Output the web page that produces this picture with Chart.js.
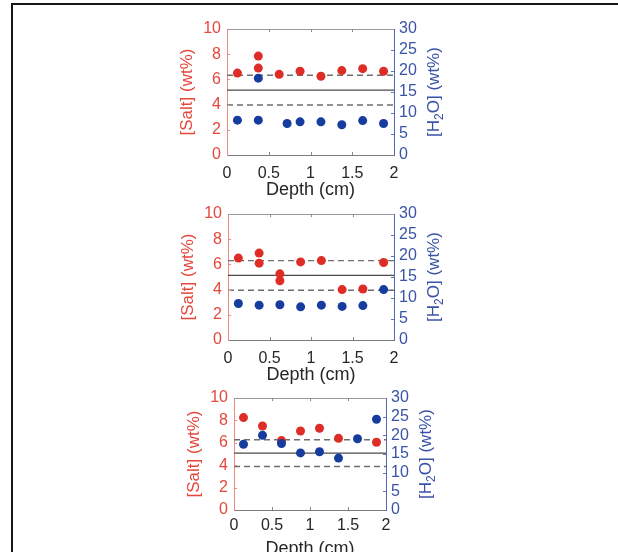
<!DOCTYPE html>
<html>
<head>
<meta charset="utf-8">
<script src="https://cdn.jsdelivr.net/npm/chart.js@4.4.1/dist/chart.umd.min.js"></script>
<style>
  html, body { margin: 0; padding: 0; background: #fff; }
  #page { position: relative; width: 618px; height: 552px; overflow: hidden; }
  #frame { position: absolute; left: 11px; top: 3px; right: -4px; bottom: -4px;
           border-top: 2px solid #161616; border-left: 2px solid #161616; }
  canvas { position: absolute; left: 0; top: 0; }
</style>
</head>
<body>
<div id="page">
  <div id="frame"></div>
  <canvas id="panel1" width="618" height="552"></canvas>
  <canvas id="panel2" width="618" height="552"></canvas>
  <canvas id="panel3" width="618" height="552"></canvas>
</div>
<script>
// axis ticks
const depthTicks = [0, 0.5, 1, 1.5, 2];
const saltTicks = [0, 2, 4, 6, 8, 10];
const waterTicks = [0, 5, 10, 15, 20, 25, 30];

// panel 1
const salt1Depth = [0.125, 0.375, 0.375, 0.625, 0.875, 1.125, 1.375, 1.625, 1.875];
const salt1 = [6.5, 7.85, 6.9, 6.4, 6.65, 6.25, 6.7, 6.85, 6.65];
const water1Depth = [0.125, 0.375, 0.375, 0.72, 0.875, 1.125, 1.375, 1.625, 1.875];
const water1 = [8.3, 8.3, 18.3, 7.5, 7.9, 7.9, 7.2, 8.2, 7.5];
const refs1 = [6.33, 5.15, 3.97];

// panel 2
const salt2Depth = [0.125, 0.375, 0.375, 0.625, 0.625, 0.875, 1.125, 1.375, 1.625, 1.875];
const salt2 = [6.5, 6.9, 6.1, 5.25, 4.7, 6.2, 6.3, 4.0, 4.05, 6.15];
const water2Depth = [0.125, 0.375, 0.625, 0.875, 1.125, 1.375, 1.625, 1.875];
const water2 = [8.7, 8.3, 8.4, 7.9, 8.3, 8.0, 8.2, 12.0];
const refs2 = [6.3, 5.13, 3.95];

// panel 3
const salt3Depth = [0.125, 0.375, 0.625, 0.875, 1.125, 1.375, 1.875];
const salt3 = [8.25, 7.5, 6.2, 7.05, 7.3, 6.4, 6.05];
const water3Depth = [0.125, 0.375, 0.625, 0.875, 1.125, 1.375, 1.625, 1.875];
const water3 = [17.6, 20.0, 17.8, 15.3, 15.6, 13.9, 19.1, 24.3];
const refs3 = [6.27, 5.08, 3.88];

const RED = '#de2d26';
const BLUE = '#163c9e';
const RED_TXT = '#e5473d';
const BLUE_TXT = '#3a53a8';
const FONT = '"Liberation Sans", Arial, Helvetica, sans-serif';

const toPoints = (xs, ys) => xs.map((x, i) => ({ x: x, y: ys[i] }));

// titles, top edge and inward tick marks (MATLAB style)
const panelDecor = {
    id: 'panelDecor',
    afterDraw(chart) {
        const { ctx, chartArea: a, scales } = chart;
        const o = chart.options.plugins.panelDecor;
        ctx.save();

        ctx.lineWidth = 1;
        ctx.strokeStyle = '#9a9a9a';
        ctx.beginPath();
        ctx.moveTo(a.left, a.top + 0.5);
        ctx.lineTo(a.right, a.top + 0.5);
        ctx.stroke();

        // inward ticks
        ctx.strokeStyle = '#8a8a8a';
        depthTicks.slice(1, -1).forEach(v => {
            const px = Math.round(scales.x.getPixelForValue(v)) + 0.5;
            ctx.beginPath();
            ctx.moveTo(px, a.top); ctx.lineTo(px, a.top + 3);
            ctx.moveTo(px, a.bottom); ctx.lineTo(px, a.bottom - 3);
            ctx.stroke();
        });
        ctx.strokeStyle = '#ee8c84';
        saltTicks.slice(1, -1).forEach(v => {
            const py = Math.round(scales.ySalt.getPixelForValue(v)) + 0.5;
            ctx.beginPath(); ctx.moveTo(a.left, py); ctx.lineTo(a.left + 3, py); ctx.stroke();
        });
        ctx.strokeStyle = '#6075bd';
        waterTicks.slice(1, -1).forEach(v => {
            const py = Math.round(scales.yH2O.getPixelForValue(v)) + 0.5;
            ctx.beginPath(); ctx.moveTo(a.right, py); ctx.lineTo(a.right - 3, py); ctx.stroke();
        });

        // x title
        ctx.fillStyle = '#262626';
        ctx.font = '18px ' + FONT;
        ctx.textAlign = 'center';
        ctx.textBaseline = 'middle';
        ctx.fillText('Depth (cm)', (a.left + a.right) / 2, a.bottom + o.xTitleGap);

        const midY = (a.top + a.bottom) / 2;

        // left title
        ctx.save();
        ctx.translate(a.left - 40, midY);
        ctx.rotate(-Math.PI / 2);
        ctx.fillStyle = RED_TXT;
        ctx.font = '17px ' + FONT;
        ctx.fillText('[Salt] (wt%)', 0, 0);
        ctx.restore();

        // right title with subscript, reading bottom to top
        ctx.save();
        ctx.translate(a.right + 40, midY);
        ctx.rotate(-Math.PI / 2);
        ctx.fillStyle = BLUE_TXT;
        ctx.textAlign = 'left';
        const big = '17px ' + FONT, small = '12px ' + FONT;
        ctx.font = big;
        const w1 = ctx.measureText('[H').width;
        const w3 = ctx.measureText('O] (wt%)').width;
        ctx.font = small;
        const w2 = ctx.measureText('2').width;
        let x0 = -(w1 + w2 + w3) / 2;
        ctx.font = big;
        ctx.fillText('[H', x0, 0);
        ctx.font = small;
        ctx.fillText('2', x0 + w1, 6);
        ctx.font = big;
        ctx.fillText('O] (wt%)', x0 + w1 + w2, 0);
        ctx.restore();

        ctx.restore();
    }
};

function refLine(v, dashed) {
    return {
        type: 'line',
        data: [{ x: 0, y: v }, { x: 2, y: v }],
        yAxisID: 'ySalt',
        borderColor: dashed ? '#6e6e6e' : '#4a4a4a',
        borderWidth: 1.4,
        borderDash: dashed ? [6, 4] : [],
        pointRadius: 0,
        showLine: true
    };
}

function makePanel(id, box, saltPts, waterPts, refs, xTickPad, xTitleGap) {
    const ctx = document.getElementById(id).getContext('2d');
    return new Chart(ctx, {
        type: 'scatter',
        data: {
            datasets: [{
                label: 'H2O',
                data: waterPts,
                yAxisID: 'yH2O',
                backgroundColor: BLUE,
                borderWidth: 0,
                pointRadius: 4.5
            }, {
                label: 'Salt',
                data: saltPts,
                yAxisID: 'ySalt',
                backgroundColor: RED,
                borderWidth: 0,
                pointRadius: 4.5
            },
            refLine(refs[0], true),
            refLine(refs[1], false),
            refLine(refs[2], true)]
        },
        options: {
            responsive: false,
            animation: false,
            events: [],
            layout: {
                padding: {
                    left: box.left - 40,
                    right: 618 - box.right - 40,
                    top: box.top,
                    bottom: 552 - box.bottom - 40
                }
            },
            plugins: {
                legend: { display: false },
                tooltip: { enabled: false },
                panelDecor: { xTitleGap: xTitleGap }
            },
            scales: {
                x: {
                    type: 'linear',
                    min: 0,
                    max: 2,
                    afterBuildTicks: s => { s.ticks = depthTicks.map(v => ({ value: v })); },
                    afterFit: s => { s.height = 40; },
                    grid: { display: false, drawTicks: false },
                    border: { color: '#7d7d7d', width: 1 },
                    ticks: {
                        color: '#262626',
                        padding: xTickPad,
                        maxRotation: 0,
                        autoSkip: false,
                        font: { size: 16, family: FONT },
                        callback: v => String(v)
                    }
                },
                ySalt: {
                    position: 'left',
                    min: 0,
                    max: 10,
                    afterBuildTicks: s => { s.ticks = saltTicks.map(v => ({ value: v })); },
                    afterFit: s => { s.width = 40; },
                    grid: { display: false, drawTicks: false },
                    border: { color: '#ee8c84', width: 1 },
                    ticks: {
                        color: RED_TXT,
                        padding: 6,
                        autoSkip: false,
                        font: { size: 16, family: FONT }
                    }
                },
                yH2O: {
                    position: 'right',
                    min: 0,
                    max: 30,
                    afterBuildTicks: s => { s.ticks = waterTicks.map(v => ({ value: v })); },
                    afterFit: s => { s.width = 40; },
                    grid: { display: false, drawTicks: false },
                    border: { color: '#5068b8', width: 1 },
                    ticks: {
                        color: BLUE_TXT,
                        padding: 5,
                        autoSkip: false,
                        font: { size: 16, family: FONT }
                    }
                }
            }
        },
        plugins: [panelDecor]
    });
}

makePanel('panel1', { left: 227, right: 394, top: 29, bottom: 155 },
    toPoints(salt1Depth, salt1), toPoints(water1Depth, water1), refs1, 9, 35);
makePanel('panel2', { left: 228, right: 394, top: 214, bottom: 340 },
    toPoints(salt2Depth, salt2), toPoints(water2Depth, water2), refs2, 9, 35);
makePanel('panel3', { left: 234, right: 386, top: 398, bottom: 510 },
    toPoints(salt3Depth, salt3), toPoints(water3Depth, water3), refs3, 6, 39);
</script>
</body>
</html>
